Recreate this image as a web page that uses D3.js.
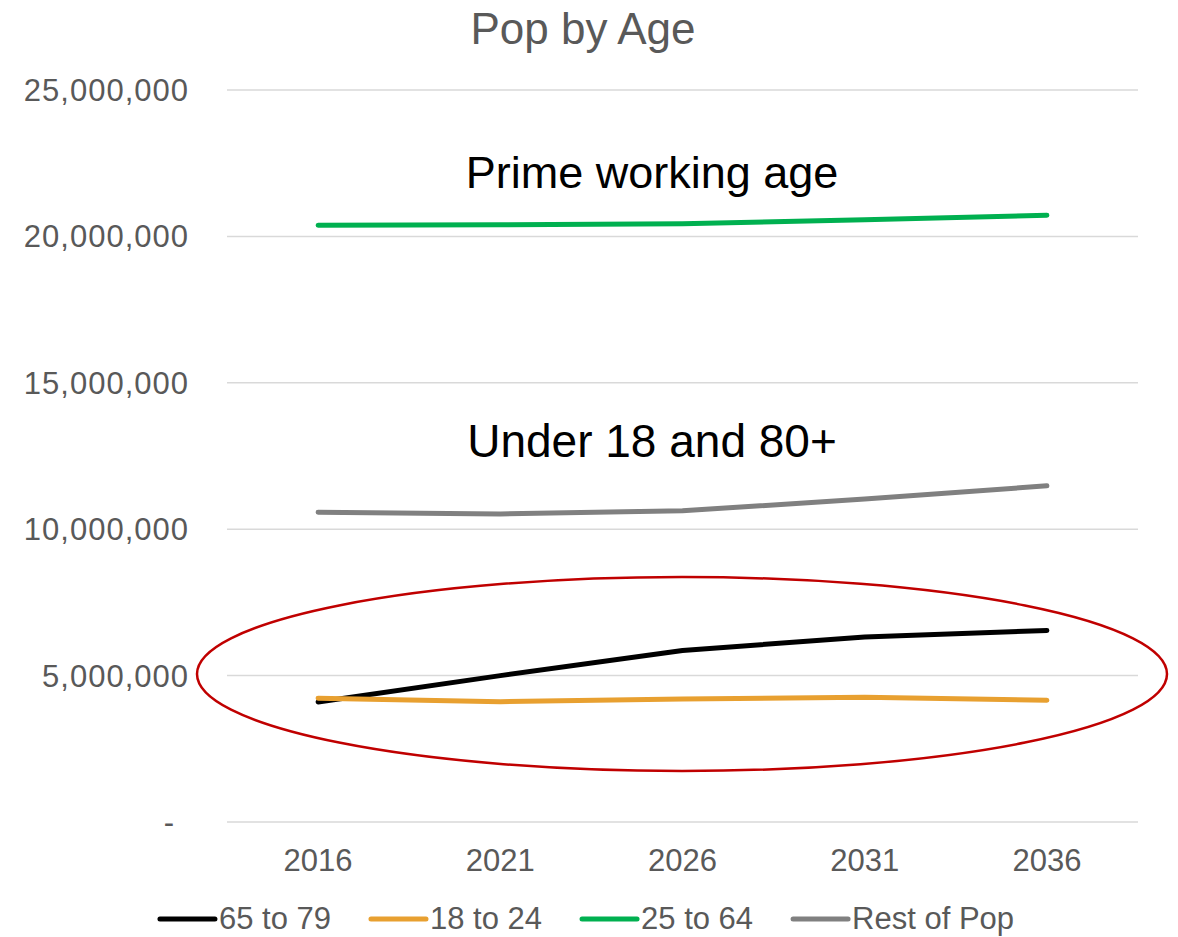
<!DOCTYPE html>
<html>
<head>
<meta charset="utf-8">
<script src="https://cdn.jsdelivr.net/npm/d3@7"></script>
<style>
  html, body { margin: 0; padding: 0; background: #fff; }
  svg { display: block; font-family: "Liberation Sans", Arial, sans-serif; }
</style>
</head>
<body>
<svg id="chart" width="1178" height="937"></svg>
<script>
// Population by age group, projected every five years
const years = ["2016", "2021", "2026", "2031", "2036"];
const age65to79 = [4100000, 5000000, 5860000, 6320000, 6540000];
const age18to24 = [4230000, 4110000, 4200000, 4260000, 4160000];
const age25to64 = [20380000, 20400000, 20430000, 20570000, 20720000];
const restOfPop = [10580000, 10520000, 10630000, 11030000, 11480000];
const yTicks = [0, 5000000, 10000000, 15000000, 20000000, 25000000];

const seriesList = [
  { name: "65 to 79", values: age65to79, color: "#000000" },
  { name: "18 to 24", values: age18to24, color: "#E8A030" },
  { name: "25 to 64", values: age25to64, color: "#00B050" },
  { name: "Rest of Pop", values: restOfPop, color: "#808080" }
];

const svg = d3.select("#chart");
const margin = { left: 227, right: 40, top: 90, bottom: 115 };
const W = 1178, H = 937;

const x = d3.scalePoint().domain(years).range([margin.left, W - margin.right]).padding(0.5);
const y = d3.scaleLinear().domain([0, 25000000]).range([H - margin.bottom, margin.top]);

// Title
svg.append("text")
  .attr("x", 583).attr("y", 44)
  .attr("text-anchor", "middle")
  .attr("font-size", 44)
  .attr("fill", "#595959")
  .text("Pop by Age");

// Horizontal gridlines
svg.append("g").selectAll("line").data(yTicks).join("line")
  .attr("x1", margin.left).attr("x2", W - margin.right)
  .attr("y1", d => y(d)).attr("y2", d => y(d))
  .attr("stroke", "#D9D9D9").attr("stroke-width", 1.5);

// Y axis labels
const fmt = d3.format(",");
svg.append("g").selectAll("text").data(yTicks).join("text")
  .attr("x", d => d === 0 ? 175 : 189)
  .attr("y", d => y(d) + 11)
  .attr("text-anchor", "end")
  .attr("font-size", 31)
  .attr("letter-spacing", 1)
  .attr("fill", "#595959")
  .text(d => d === 0 ? "-" : fmt(d));

// X axis labels
svg.append("g").selectAll("text").data(years).join("text")
  .attr("x", d => x(d))
  .attr("y", 871)
  .attr("text-anchor", "middle")
  .attr("font-size", 31)
  .attr("fill", "#595959")
  .text(d => d);

// Series lines
const line = d3.line()
  .x((d, i) => x(years[i]))
  .y(d => y(d));

svg.append("g").selectAll("path").data(seriesList).join("path")
  .attr("d", s => line(s.values))
  .attr("fill", "none")
  .attr("stroke", s => s.color)
  .attr("stroke-width", 5)
  .attr("stroke-linecap", "round")
  .attr("stroke-linejoin", "round");

// Annotations
svg.append("text")
  .attr("x", 652).attr("y", 188)
  .attr("text-anchor", "middle")
  .attr("font-size", 45)
  .attr("fill", "#000")
  .text("Prime working age");

svg.append("text")
  .attr("x", 652).attr("y", 457)
  .attr("text-anchor", "middle")
  .attr("font-size", 46)
  .attr("fill", "#000")
  .text("Under 18 and 80+");

// Highlight around the smaller groups
svg.append("ellipse")
  .attr("cx", 682).attr("cy", 674)
  .attr("rx", 485).attr("ry", 97)
  .attr("fill", "none")
  .attr("stroke", "#C00000")
  .attr("stroke-width", 2.5);

// Legend
const legend = svg.append("g");
let cursor = 0;
const swatch = 55, gapText = 4, gapItem = 40;
seriesList.forEach(s => {
  const g = legend.append("g").attr("transform", `translate(${cursor},0)`);
  g.append("line")
    .attr("x1", 0).attr("x2", swatch)
    .attr("y1", 0).attr("y2", 0)
    .attr("stroke", s.color).attr("stroke-width", 5)
    .attr("stroke-linecap", "round");
  const t = g.append("text")
    .attr("x", swatch + gapText).attr("y", 10)
    .attr("font-size", 31)
    .attr("fill", "#595959")
    .text(s.name);
  cursor += swatch + gapText + t.node().getComputedTextLength() + gapItem;
});
const legendWidth = cursor - gapItem;
legend.attr("transform", `translate(${587 - legendWidth / 2},919)`);
</script>
</body>
</html>
